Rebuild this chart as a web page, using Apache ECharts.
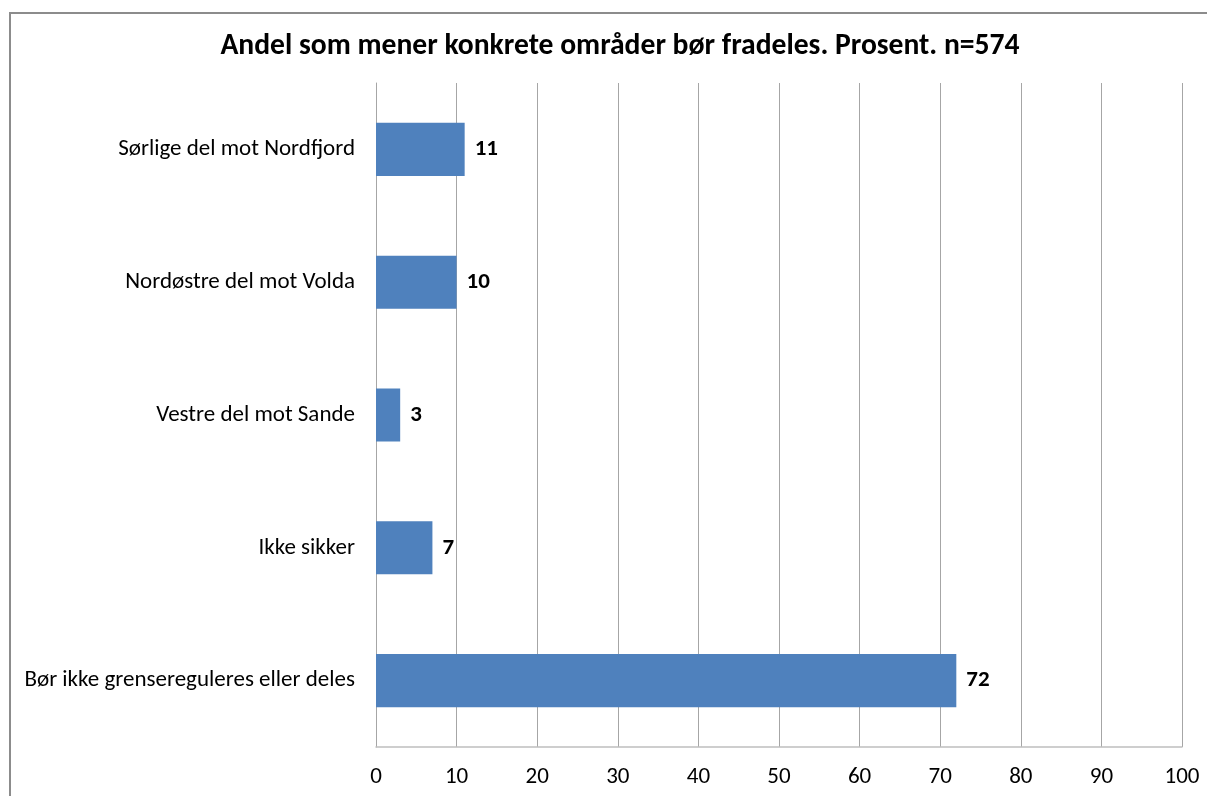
<!DOCTYPE html>
<html>
<head>
<meta charset="utf-8">
<script src="https://cdn.jsdelivr.net/npm/echarts@6/dist/echarts.min.js"></script>
<style>
  html, body { margin: 0; padding: 0; background: #fff; }
  #chart { width: 1207px; height: 796px; }
</style>
</head>
<body>
<div id="chart"></div>
<script>
// data, top to bottom
var categories = ['Sørlige del mot Nordfjord', 'Nordøstre del mot Volda', 'Vestre del mot Sande', 'Ikke sikker', 'Bør ikke grensereguleres eller deles'];
var values = [11, 10, 3, 7, 72];
var xTicks = [0, 10, 20, 30, 40, 50, 60, 70, 80, 90, 100];

var fontFam = 'Carlito, "Liberation Sans Narrow", "Open Sans", sans-serif';

var chart = echarts.init(document.getElementById('chart'));
chart.setOption({
  animation: false,
  backgroundColor: '#fff',
  title: {
    text: 'Andel som mener konkrete områder bør fradeles. Prosent. n=574',
    left: 615,
    top: 27,
    textAlign: 'center',
    textStyle: { fontFamily: fontFam, fontSize: 29.6, fontWeight: 'bold', color: '#000' }
  },
  graphic: [{
    type: 'rect',
    shape: { x: 10, y: 13, width: 1220, height: 820 },
    style: { fill: 'none', stroke: '#8c8c8c', lineWidth: 2 },
    silent: true
  }],
  grid: { left: 376, right: 25, top: 83, bottom: 49, containLabel: false },
  xAxis: {
    type: 'value',
    min: xTicks[0],
    max: xTicks[xTicks.length - 1],
    interval: 10,
    axisLine: { show: true, lineStyle: { color: '#bfbfbf', width: 1.5 } },
    axisTick: { show: false },
    axisLabel: { fontFamily: fontFam, fontSize: 23, color: '#000', margin: 19 },
    splitLine: { show: true, lineStyle: { color: '#a6a6a6', width: 1 } }
  },
  yAxis: {
    type: 'category',
    data: categories,
    inverse: true,
    axisLine: { show: true, lineStyle: { color: '#a6a6a6', width: 1 } },
    axisTick: { show: false },
    axisLabel: { fontFamily: fontFam, fontSize: 23, color: '#000', margin: 21 }
  },
  series: [{
    type: 'bar',
    data: values,
    barWidth: '40%',
    itemStyle: { color: '#4F81BD' },
    label: {
      show: true,
      position: 'right',
      distance: 10,
      fontFamily: fontFam,
      fontSize: 23,
      fontWeight: 'bold',
      color: '#000'
    }
  }]
});
</script>
</body>
</html>
